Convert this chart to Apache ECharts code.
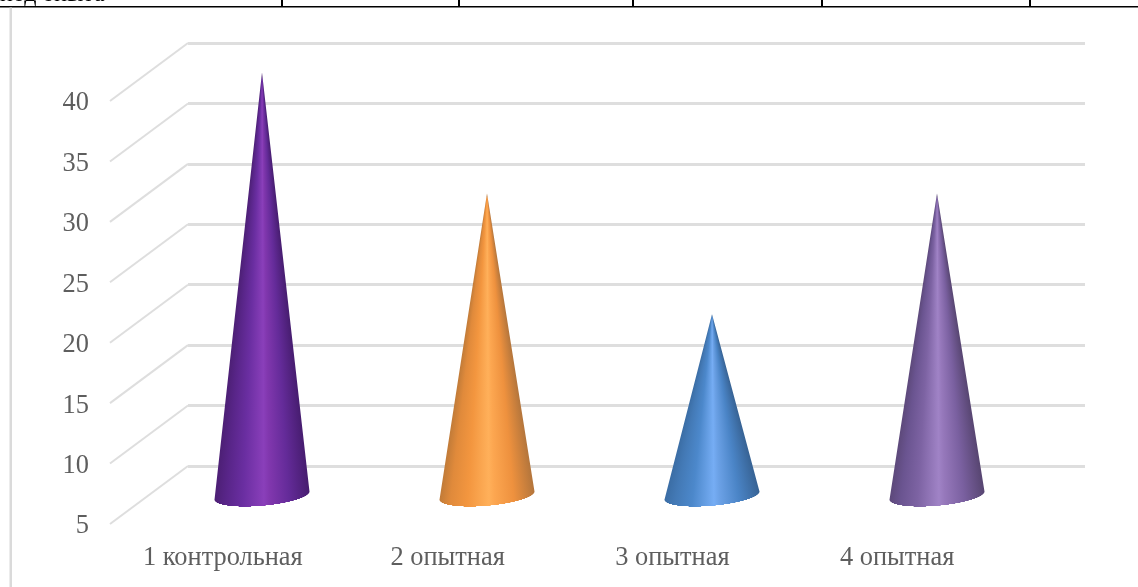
<!DOCTYPE html>
<html>
<head>
<meta charset="utf-8">
<style>html,body{margin:0;padding:0;background:#fff;overflow:hidden}#chart{width:1138px;height:587px}</style>
<script src="https://cdn.jsdelivr.net/npm/echarts@6/dist/echarts.min.js"></script>
</head>
<body>
<div id="chart"></div>
<script>
// Cone heights per group, on an axis starting at 5.
const categories = ['1 контрольная', '2 опытная', '3 опытная', '4 опытная'];
const values = [40, 30, 20, 30];
const axisMin = 5;
const axisMax = 40;
const axisStep = 5;
const yTicks = [5, 10, 15, 20, 25, 30, 35, 40];

// Shading ramps across each cone, left edge to right edge.
const rampStops = [0, 0.12, 0.3, 0.52, 0.58, 0.78, 1];
const ramps = [
  ['#4c1f74', '#582588', '#6a2ea1', '#8a3fba', '#8137ae', '#642b99', '#471d70'],
  ['#bf7a38', '#e08a3b', '#f3963f', '#ffb05a', '#fca650', '#ee913e', '#b5763c'],
  ['#3a6ca3', '#4379b5', '#4c88cb', '#76adf4', '#6ba1e6', '#4a84c6', '#386496'],
  ['#5c4879', '#6a5490', '#7d63a3', '#a083c6', '#9678bb', '#7a60a0', '#584672']
];

// The floor's depth: three parallel planes, each shifted up and to the right.
// The value labels sit on their own plane, just below the front one.
const plane = { height: 423 };
const front = { left: 110, top: 101, width: 899 };
const middle = { left: 149.5, top: 72.5, width: 900 };
const back = { left: 188, top: 43, width: 897 };
const labelPlane = { left: 110, top: 103.5, width: 899 };
const textColor = '#5e5e5e';
const gridColor = '#dedede';
const serif = '"Liberation Serif", serif';

// Left and right limits of a closed outline along one pixel row.
function rowSpan(outline, y) {
  let lo = Infinity, hi = -Infinity;
  for (let i = 0; i < outline.length; i++) {
    const a = outline[i], b = outline[(i + 1) % outline.length];
    if ((a[1] <= y && b[1] > y) || (b[1] <= y && a[1] > y)) {
      const x = a[0] + (b[0] - a[0]) * (y - a[1]) / (b[1] - a[1]);
      lo = Math.min(lo, x);
      hi = Math.max(hi, x);
    }
  }
  return [lo, hi];
}

// A cone is stacked one pixel row at a time. Each row carries the shading ramp
// scaled to the cone's width at that height, so the shading converges on the tip.
function renderCone(params, api) {
  const index = api.value(0);
  const tip = api.coord([index, api.value(1)]);
  const base = api.coord([index, axisMin]);
  const band = api.size([1, 0])[0];
  const majorX = band * 0.211;
  const majorY = band * 0.018;
  const minorY = band * 0.046;

  const outline = [tip];
  for (let k = 0; k <= 60; k++) {
    const th = Math.PI * k / 60;
    outline.push([
      base[0] - majorX * Math.cos(th),
      base[1] + majorY * Math.cos(th) + minorY * Math.sin(th)
    ]);
  }

  const colorStops = rampStops.map((offset, i) => ({ offset: offset, color: ramps[index][i] }));
  const bottom = Math.ceil(base[1] + minorY + majorY);
  const children = [];
  for (let y = Math.floor(tip[1]); y < bottom; y++) {
    const span = rowSpan(outline, y + 0.5);
    if (!isFinite(span[0])) continue;
    const half = majorX * (y + 0.5 - tip[1]) / (base[1] - tip[1]);
    children.push({
      type: 'rect',
      shape: { x: span[0], y: y, width: span[1] - span[0], height: 1 },
      style: {
        fill: {
          type: 'linear', global: true,
          x: tip[0] - half, y: 0, x2: tip[0] + half, y2: 0,
          colorStops: colorStops
        }
      }
    });
  }
  return { type: 'group', children: children };
}

// Side-wall lines run from the front plane back to the rear wall.
function renderWall(params, api) {
  const start = api.coord([0, api.value(1)]);
  return {
    type: 'line',
    shape: {
      x1: front.left,
      y1: start[1],
      x2: back.left,
      y2: start[1] + back.top - front.top
    },
    style: { stroke: gridColor, lineWidth: 2 }
  };
}

const gridFor = p => ({ left: p.left, top: p.top, width: p.width, height: plane.height });
const xAxisFor = (grid, labelled) => ({
  type: 'category', gridIndex: grid, data: categories,
  axisLine: { show: false }, axisTick: { show: false },
  axisLabel: labelled
    ? { show: true, interval: 0, margin: 21, padding: [0, 0, 0, 1], color: textColor, fontFamily: serif, fontSize: 26.4 }
    : { show: false }
});
const yAxisFor = (grid, labelled, lines) => ({
  type: 'value', gridIndex: grid, min: axisMin, max: axisMax, interval: axisStep,
  axisLine: { show: false }, axisTick: { show: false },
  splitLine: { show: lines, lineStyle: { color: gridColor, width: 3 } },
  axisLabel: labelled
    ? { show: true, margin: 21, color: textColor, fontFamily: serif, fontSize: 26.4 }
    : { show: false }
});

const chart = echarts.init(document.getElementById('chart'), null, { renderer: 'canvas' });
chart.setOption({
  animation: false,
  backgroundColor: '#ffffff',
  grid: [gridFor(front), gridFor(middle), gridFor(back), gridFor(labelPlane)],
  xAxis: [xAxisFor(0, true), xAxisFor(1, false), xAxisFor(2, false), xAxisFor(3, false)],
  yAxis: [yAxisFor(0, false, false), yAxisFor(1, false, false), yAxisFor(2, false, true), yAxisFor(3, true, false)],
  series: [
    {
      type: 'custom', xAxisIndex: 0, yAxisIndex: 0, z: 1, silent: true,
      renderItem: renderWall,
      data: yTicks.map(v => [0, v])
    },
    {
      type: 'custom', xAxisIndex: 1, yAxisIndex: 1, z: 3, silent: true,
      renderItem: renderCone,
      data: values.map((v, i) => [i, v])
    }
  ],
  // Page furniture around the chart: the table row above and the frame edge.
  graphic: [
    { type: 'text', x: 0, y: -17, style: { text: 'под опыта', font: '24px ' + serif, fill: '#000' } },
    { type: 'rect', shape: { x: 0, y: 6, width: 1138, height: 1.5 }, style: { fill: '#000' } },
    ...[281, 458, 632, 821, 1029].map(x => ({
      type: 'rect', shape: { x: x, y: 0, width: 2, height: 6 }, style: { fill: '#000' }
    })),
    { type: 'rect', shape: { x: 9.5, y: 7.5, width: 2.5, height: 579.5 }, style: { fill: '#dadada' } }
  ]
});
</script>
</body>
</html>
